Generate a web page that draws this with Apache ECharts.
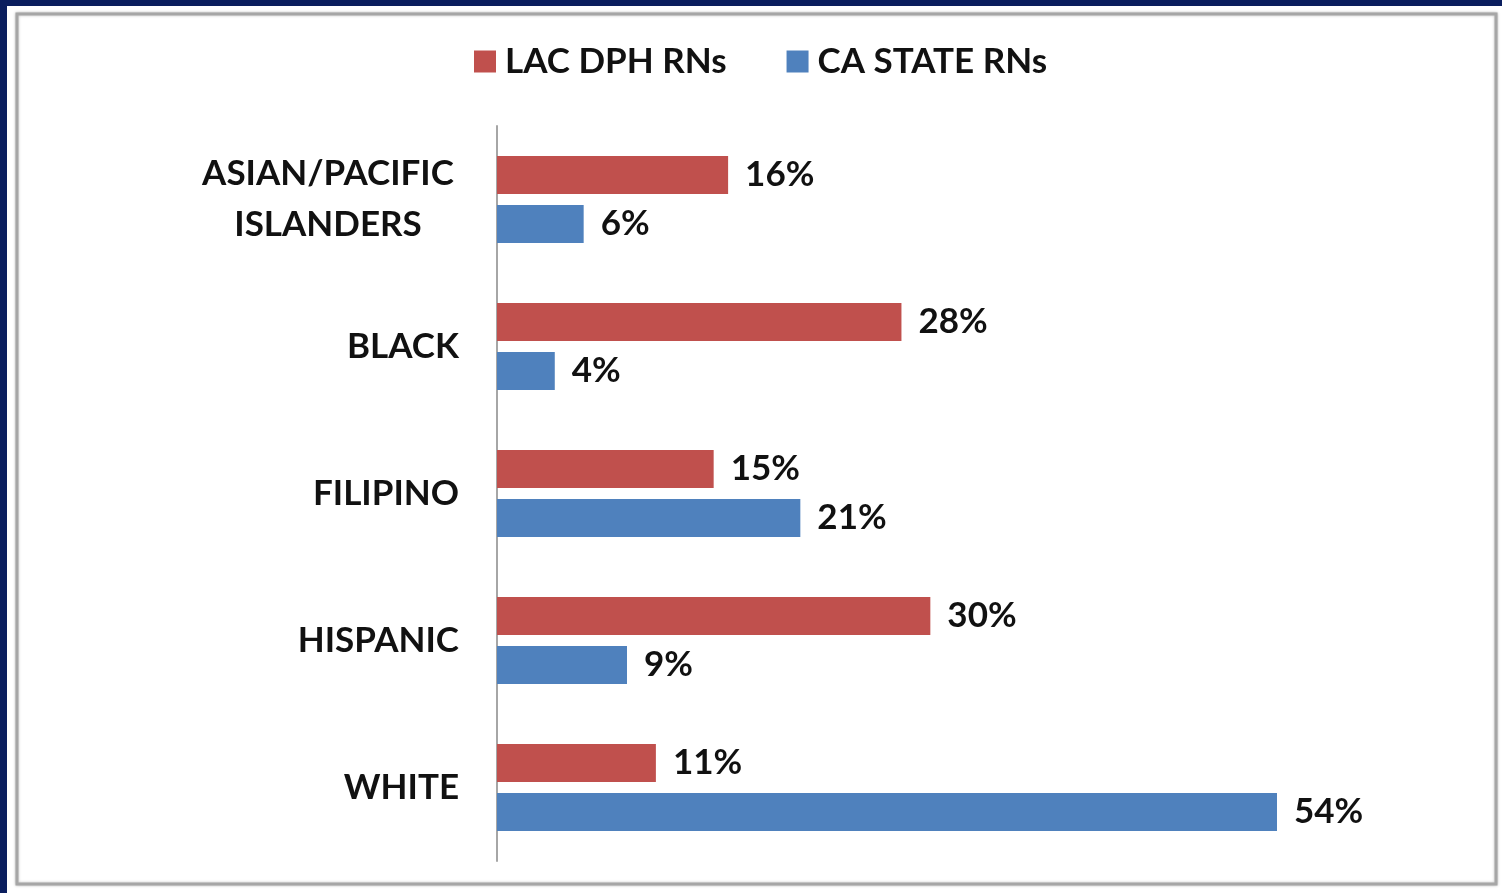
<!DOCTYPE html>
<html>
<head>
<meta charset="utf-8">
<script src="https://cdn.jsdelivr.net/npm/echarts@6/dist/echarts.min.js"></script>
<style>
html,body{margin:0;padding:0;background:#fff;}
#c{width:1502px;height:893px;}
</style>
</head>
<body>
<div id="c"></div>
<script>
const categories = ['ASIAN/PACIFIC\nISLANDERS', 'BLACK', 'FILIPINO', 'HISPANIC', 'WHITE'];
const seriesNames = ['LAC DPH RNs', 'CA STATE RNs'];
const lacValues = [16, 28, 15, 30, 11];
const caValues = [6, 4, 21, 9, 54];

const FONT = 'Lato';
const chart = echarts.init(document.getElementById('c'));
const labelStyle = {
  show: true, position: 'right', distance: 17,
  formatter: p => p.value + '%',
  color: '#111', fontFamily: FONT, fontWeight: 'bold', fontSize: 35
};
chart.setOption({
  animation: false,
  backgroundColor: '#fff',
  graphic: [
    { type: 'rect', shape: { x: 17, y: 14, width: 1479, height: 870 }, style: { fill: '#fff', stroke: '#a6a6a6', lineWidth: 3, shadowColor: 'rgba(0,0,0,0.25)', shadowBlur: 3 }, z: -10 },
    { type: 'rect', shape: { x: 0, y: 0, width: 1502, height: 6 }, style: { fill: '#0a1e5e' }, z: 10 },
    { type: 'rect', shape: { x: 0, y: 0, width: 7, height: 893 }, style: { fill: '#0a1e5e' }, z: 10 }
  ],
  legend: {
    data: seriesNames,
    left: 474, top: 44, padding: 0,
    itemWidth: 22, itemHeight: 22, itemGap: 60,
    icon: 'rect',
    textStyle: { fontFamily: FONT, fontWeight: 'bold', fontSize: 35, color: '#111', padding: [0, 0, 0, 4] }
  },
  grid: { left: 497, top: 126, width: 866.67, height: 735, containLabel: false },
  xAxis: {
    type: 'value', min: 0, max: 60, show: false
  },
  yAxis: {
    type: 'category', data: categories, inverse: true,
    axisLine: { show: true, lineStyle: { color: '#a6a6a6', width: 2 } },
    axisTick: { show: false },
    axisLabel: {
      margin: 38, align: 'right',
      fontFamily: FONT, fontWeight: 'bold', fontSize: 35, color: '#111', lineHeight: 51,
      formatter: v => v.indexOf('\n') >= 0 ? v.split('\n').map(s => '{c|' + s + '}').join('\n') : v,
      rich: { c: { width: 262, align: 'center', fontFamily: FONT, fontWeight: 'bold', fontSize: 35, color: '#111', lineHeight: 51 } }
    }
  },
  series: [
    { name: seriesNames[0], type: 'bar', data: lacValues, barWidth: 38, barGap: '29%', itemStyle: { color: '#c0504d' }, label: labelStyle },
    { name: seriesNames[1], type: 'bar', data: caValues, barWidth: 38, barGap: '29%', itemStyle: { color: '#4f81bd' }, label: labelStyle }
  ]
});
</script>
</body>
</html>
